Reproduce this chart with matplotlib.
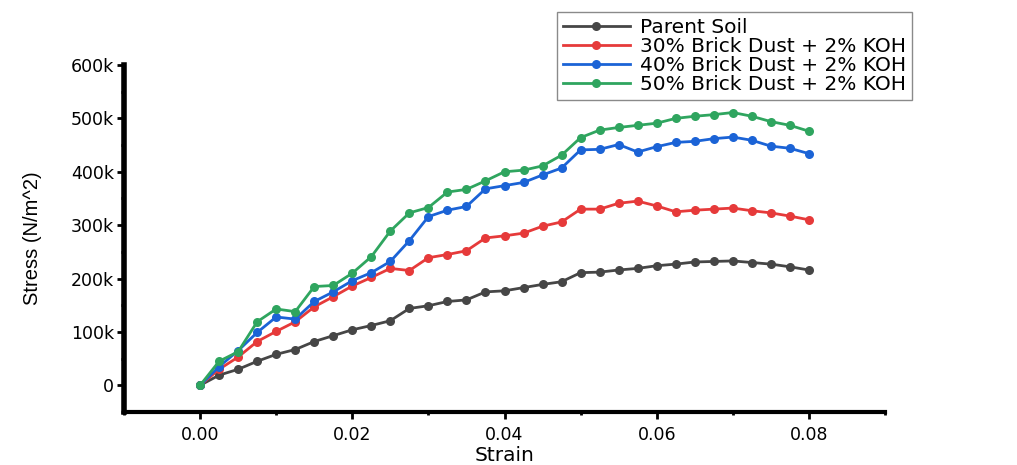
import matplotlib
matplotlib.use("Agg")
import matplotlib.pyplot as plt
from matplotlib.ticker import FuncFormatter, MultipleLocator

strain = [0.0, 0.0025, 0.005, 0.0075, 0.01, 0.0125, 0.015, 0.0175, 0.02, 0.0225,
          0.025, 0.0275, 0.03, 0.0325, 0.035, 0.0375, 0.04, 0.0425, 0.045, 0.0475,
          0.05, 0.0525, 0.055, 0.0575, 0.06, 0.0625, 0.065, 0.0675, 0.07, 0.0725,
          0.075, 0.0775, 0.08]

# stress values in kN/m^2 (k)
parent_soil = [0, 19, 30, 45, 58, 67, 82, 93, 104, 112, 121, 144, 149, 157, 160, 175,
               177, 183, 189, 194, 211, 212, 216, 219, 224, 227, 231, 232, 233, 230,
               227, 222, 216]
bd30_koh2 = [0, 30, 53, 82, 101, 119, 147, 166, 186, 202, 219, 215, 239, 245, 252, 276,
             280, 285, 298, 306, 330, 330, 341, 345, 336, 325, 328, 330, 332, 327,
             323, 317, 310]
bd40_koh2 = [0, 35, 65, 99, 128, 124, 157, 175, 196, 211, 232, 271, 316, 328, 335, 368,
             374, 380, 394, 407, 441, 442, 451, 437, 447, 455, 457, 462, 465, 459,
             448, 444, 434]
bd50_koh2 = [0, 45, 63, 119, 143, 138, 185, 187, 210, 241, 289, 323, 333, 362, 367, 383,
             400, 403, 411, 431, 464, 478, 483, 487, 491, 500, 504, 507, 511, 504,
             494, 487, 476]

labels = ["Parent Soil", "30% Brick Dust + 2% KOH",
          "40% Brick Dust + 2% KOH", "50% Brick Dust + 2% KOH"]
colors = ["#464646", "#e63a3a", "#1b63d6", "#2fa55f"]
series = [parent_soil, bd30_koh2, bd40_koh2, bd50_koh2]

plt.rcParams['font.family'] = ['DejaVu Sans']

fig = plt.figure(figsize=(10.17, 4.65), dpi=100)
ax = fig.add_axes([124 / 1017, 53 / 465, (885 - 124) / 1017, (412 - 65) / 465])

handles = []
for vals, col, lab in zip(series, colors, labels):
    h, = ax.plot(strain, [v * 1000 for v in vals], color=col, lw=2.0,
                 marker='o', markersize=6.5, markeredgewidth=0, label=lab)
    handles.append(h)

ax.set_xlim(-0.01, 0.09)
ax.set_ylim(-50000, 600000)
ax.xaxis.set_major_locator(MultipleLocator(0.02))
ax.xaxis.set_minor_locator(MultipleLocator(0.01))
ax.yaxis.set_major_locator(MultipleLocator(100000))
ax.yaxis.set_minor_locator(MultipleLocator(50000))
ax.xaxis.set_major_formatter(FuncFormatter(lambda v, p: f"{v:.2f}"))
ax.yaxis.set_major_formatter(FuncFormatter(lambda v, p: "0" if abs(v) < 1 else f"{int(round(v / 1000))}k"))

for s in ['top', 'right']:
    ax.spines[s].set_visible(False)
ax.spines['left'].set_linewidth(4.0)
ax.spines['bottom'].set_linewidth(3.0)

ax.tick_params(axis='both', which='major', direction='out', length=5, width=2,
               labelsize=12.5, colors='black')
ax.tick_params(axis='x', which='major', pad=5)
ax.tick_params(axis='y', which='major', pad=2)
ax.tick_params(axis='both', which='minor', direction='out', length=2.5, width=2)

ax.set_xlabel("Strain", fontsize=14.5)
ax.xaxis.set_label_coords(0.5, -0.098)
ax.set_ylabel("Stress (N/m^2)", fontsize=14.5, family=['Liberation Sans', 'DejaVu Sans'])
ax.yaxis.set_label_coords(-0.108, 0.5)

leg = fig.legend(handles=handles, loc='upper left',
                 bbox_to_anchor=(557 / 1017, 1 - 12 / 465),
                 bbox_transform=fig.transFigure, fontsize=14.5,
                 frameon=True, fancybox=False, framealpha=1,
                 edgecolor='#8a8a8a', borderpad=0.3, labelspacing=0.0,
                 handlelength=3.3, handletextpad=0.5, borderaxespad=0)
leg.get_frame().set_linewidth(1.0)

fig.savefig("out.png", dpi=100)
